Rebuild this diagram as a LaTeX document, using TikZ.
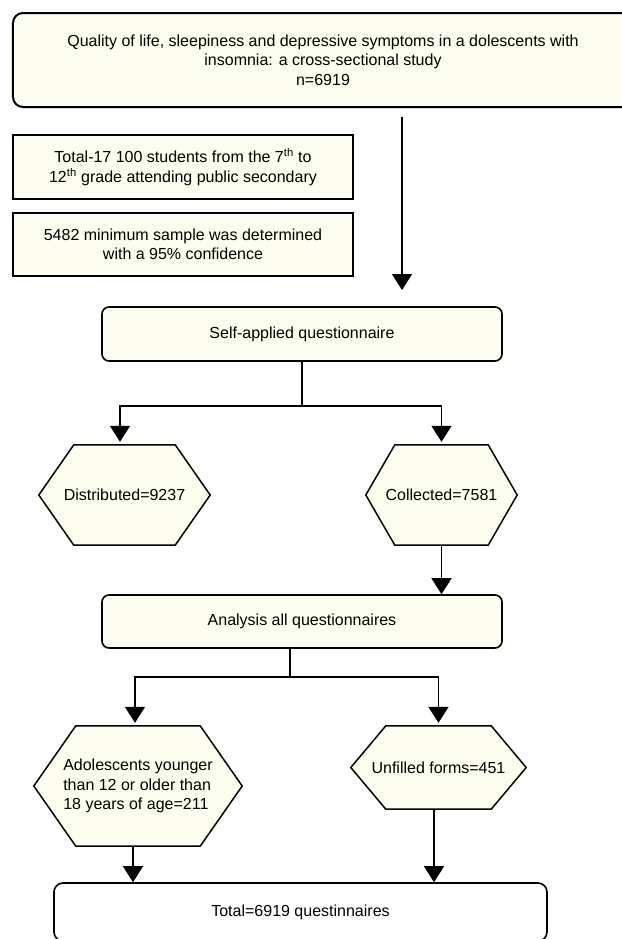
\documentclass[tikz,border=0pt]{standalone}
\usepackage{fontspec}
\setmainfont{Liberation Sans}
\usetikzlibrary{arrows.meta,backgrounds}
\definecolor{cream}{RGB}{253,253,240}
\tikzset{
  box/.style={draw, line width=1.6bp, fill=cream, rounded corners=7bp, align=center, inner sep=0pt},
  sqbox/.style={box, rounded corners=0pt},
  hextext/.style={inner sep=0pt, align=center},
  hexline/.style={draw, line width=1.5bp, fill=cream, line join=miter},
  flow/.style={line width=1.5bp, -{Triangle[width=20bp,length=16bp]}},
}
% hexagon round a node: node name, depth of the points
\newcommand{\hexpath}[2]{%
  \path[hexline] (#1.west) -- ([xshift=#2bp]#1.north west) -- ([xshift=-#2bp]#1.north east)
    -- (#1.east) -- ([xshift=-#2bp]#1.south east) -- ([xshift=#2bp]#1.south west) -- cycle;}
\begin{document}
\begin{tikzpicture}[x=1bp, y=-1bp, font=\fontsize{16bp}{19.5bp}\selectfont]
\useasboundingbox (0,0) rectangle (622,939);

\node[box, rounded corners=10bp, line width=2bp, minimum width=620bp, minimum height=94bp] (title) at (323,60)
  {Quality of life, sleepiness and depressive symptoms in a dolescents with\\insomnia: a cross-sectional study\\n=6919};
\node[sqbox, minimum width=340bp, minimum height=64bp] (pop) at (183,167)
  {Total-17 100 students from the 7\textsuperscript{th} to\\12\textsuperscript{th} grade attending public secondary};
\node[sqbox, minimum width=340bp, minimum height=63bp] (sample) at (183,244.5)
  {5482 minimum sample was determined\\with a 95\% confidence};
\coordinate (a1) at (402,117);
\coordinate (a2) at (402,290);
\draw[flow] (a1) -- (a2);

\node[box, minimum width=400bp, minimum height=54bp] (self) at (302,334) {Self-applied questionnaire};

% hexagons
\node[hextext, minimum width=171bp, minimum height=100bp] (dist) at (124.5,495) {};
\node[hextext, minimum width=151bp, minimum height=100bp] (coll) at (441.5,495) {};
\hexpath{dist}{35}
\hexpath{coll}{29}
\node at (dist) {Distributed=9237};
\node at (coll) {Collected=7581};

\draw[flow, shorten >=3bp] (self.south) -- (302,406) -| ([xshift=-4.5bp]dist.north);
\draw[flow, shorten >=3bp] (self.south) -- (302,406) -| (coll.north);

\node[box, minimum width=400bp, minimum height=53bp] (ana) at (302,621.5) {Analysis all questionnaires};
\draw[flow] (coll.south) -- (coll.south |- ana.north);

\node[hextext, minimum width=208bp, minimum height=120bp] (adol) at (138,786) {};
\node[hextext, minimum width=175bp, minimum height=83bp] (unf) at (438.5,767.5) {};
\hexpath{adol}{42}
\hexpath{unf}{35}
\node[align=left] at (adol) {Adolescents younger\\than 12 or older than\\18 years of age=211};
\node at (unf) {Unfilled forms=451};

\draw[flow, shorten >=3bp] ([xshift=-12bp]ana.south) -- ++(0,28) -| ([xshift=-3bp]adol.north);
\draw[flow, shorten >=3bp] ([xshift=-12bp]ana.south) -- ++(0,28) -| (unf.north);

\node[box, fill=white, rounded corners=9bp, minimum width=493bp, minimum height=58bp] (total) at (300.5,912) {Total=6919 questinnaires};
\draw[flow] ([xshift=-5bp]adol.south) -- ([xshift=-5bp]adol.south |- total.north);
\draw[flow] ([xshift=-4.5bp]unf.south) -- ([xshift=-4.5bp]unf.south |- total.north);

\end{tikzpicture}
\end{document}
